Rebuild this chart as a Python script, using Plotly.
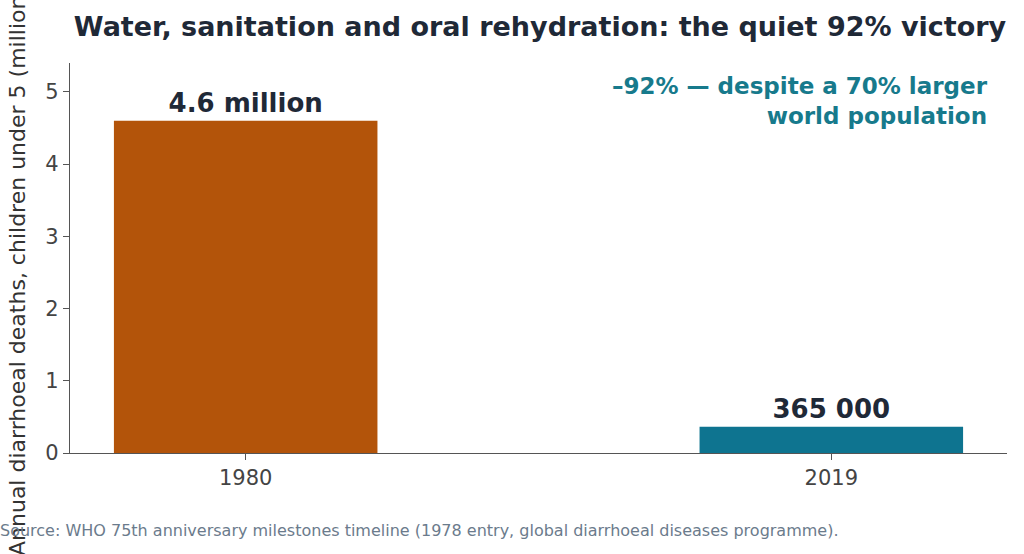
import plotly.graph_objects as go

years = ["1980", "2019"]
deaths_millions = [4.6, 0.365]
bar_labels = ["4.6 million", "365 000"]
bar_colors = ["#b3540a", "#0e7490"]

title_text = "Water, sanitation and oral rehydration: the quiet 92% victory"
ylabel = "Annual diarrhoeal deaths, children under 5 (millions)"
note_text = "–92% — despite a 70% larger<br>world population"
source_text = "Source: WHO 75th anniversary milestones timeline (1978 entry, global diarrhoeal diseases programme)."

FONT = "DejaVu Sans"
W, H = 1024, 554
L, R, T, B = 70, 17, 63, 101
pw, ph = W - L - R, H - T - B

fig = go.Figure()
fig.add_trace(go.Bar(
    x=years, y=deaths_millions, width=0.45,
    marker=dict(color=bar_colors, line=dict(width=0)),
    text=bar_labels, textposition="outside", cliponaxis=False,
    constraintext="none",
    textfont=dict(family=FONT, size=26, color="#1f2937", weight="bold"),
    hoverinfo="skip",
))

fig.update_layout(
    width=W, height=H,
    margin=dict(l=L, r=R, t=T, b=B),
    paper_bgcolor="white", plot_bgcolor="white",
    showlegend=False,
    font=dict(family=FONT),
    title=dict(text=title_text, x=540 / W, xanchor="center",
               y=1 - 27 / H, yanchor="middle",
               font=dict(family=FONT, size=27, color="#1f2937", weight="bold")),
    xaxis=dict(range=[-0.3, 1.3], showgrid=False, showline=True,
               linecolor="#555555", linewidth=1.3, ticks="outside",
               ticklen=6, tickcolor="#555555",
               tickfont=dict(family=FONT, size=21, color="#444444")),
    yaxis=dict(range=[0, 5.4], showgrid=False, showline=True,
               linecolor="#555555", linewidth=1.3, ticks="outside",
               ticklen=6, tickcolor="#555555", dtick=1, zeroline=False,
               tickfont=dict(family=FONT, size=21, color="#444444")),
)

fig.add_annotation(
    text=ylabel, textangle=-90, showarrow=False,
    xref="paper", yref="paper",
    x=(17 - L) / pw, y=(H - B - 266) / ph, xanchor="center", yanchor="middle",
    font=dict(family=FONT, size=22, color="#333333"),
)
fig.add_annotation(
    text=note_text, showarrow=False, align="right",
    xref="paper", yref="paper",
    x=(990 - L) / pw, y=(H - B - 101) / ph, xanchor="right", yanchor="middle",
    font=dict(family=FONT, size=23, color="#177a8c", weight="bold"),
)
fig.add_annotation(
    text=source_text, showarrow=False, align="left",
    xref="paper", yref="paper",
    x=(-2 - L) / pw, y=(H - B - 530) / ph, xanchor="left", yanchor="middle",
    font=dict(family=FONT, size=16, color="#6b7b8c"),
)

fig.write_html("out.html",
               config={"displayModeBar": False},
               post_script="document.body.style.margin='0';")
